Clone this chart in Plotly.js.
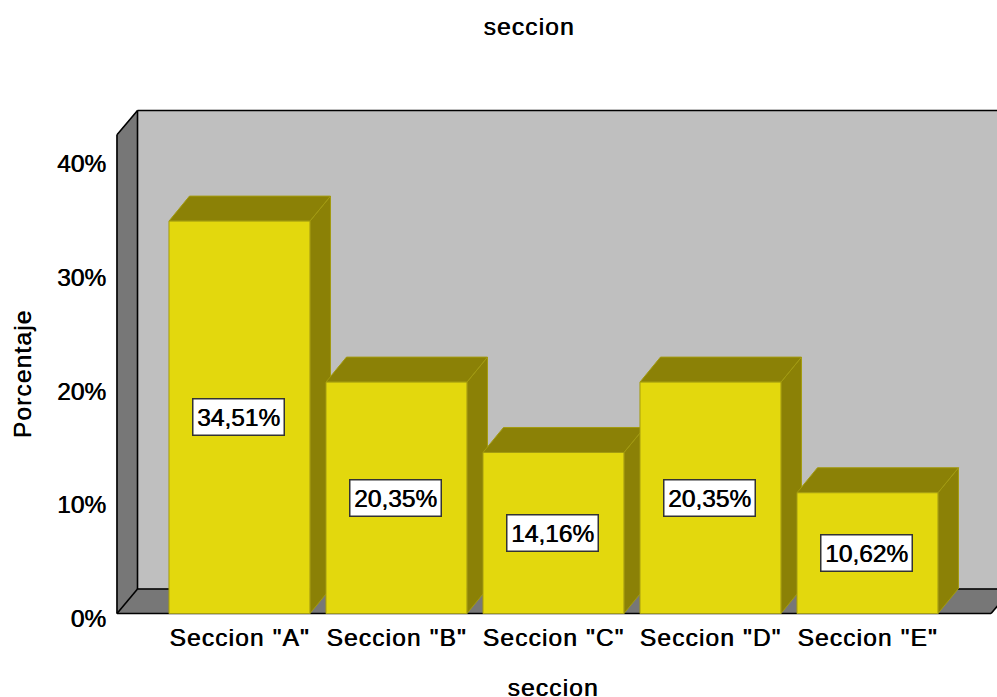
<!DOCTYPE html>
<html>
<head>
<meta charset="utf-8">
<script src="https://cdn.plot.ly/plotly-3.0.1.min.js"></script>
<style>
html,body{margin:0;padding:0;background:#fff}
#chart .xtick text, #chart .g-xtitle text, #chart .g-ytitle text, #chart .g-gtitle text {letter-spacing:1.15px}
#chart .g-xtitle {transform:translateY(-4px)}
</style>
</head>
<body>
<div id="chart" style="width:997px;height:697px"></div>
<script>
const categories = ['Seccion "A"', 'Seccion "B"', 'Seccion "C"', 'Seccion "D"', 'Seccion "E"'];
const values = [34.51, 20.35, 14.16, 20.35, 10.62];
const valueLabels = ['34,51%', '20,35%', '14,16%', '20,35%', '10,62%'];
const yTickVals = [0, 10, 20, 30, 40];
const yTickText = ['0%', '10%', '20%', '30%', '40%'];

const FONT = '"Liberation Sans", Arial, sans-serif';
const THICK = '0.6px 0 0 #000';
const barWidth = 0.898;
const depthX = 0.1306;   // oblique depth, in category units
const depthY = 2.2;      // oblique depth, in percent units
const xMin = -0.78, xMax = 4.787;  // front edges of the box
const yTop = 42.1;                 // front top of the box
const floorDepth = 2.15, wallDepth = 2.14;

const WALL = '#BFBFBF', SIDE = '#777777', YEL = '#E3D80D', DARK = '#8B8106', EDGE = '#A39B10';

function poly(pts, fill, line, lw) {
  return {
    type: 'path', xref: 'x', yref: 'y', layer: 'below',
    path: 'M' + pts.map(p => p[0] + ',' + p[1]).join('L') + 'Z',
    fillcolor: fill, line: {color: line || fill, width: lw === undefined ? 1 : lw}
  };
}
function seg(a, b) {
  return {type: 'line', xref: 'x', yref: 'y', layer: 'below',
    x0: a[0], y0: a[1], x1: b[0], y1: b[1], line: {color: '#000', width: 1.6}};
}

const bx = xMin + depthX, by = floorDepth, bt = yTop + wallDepth;
const shapes = [
  poly([[bx, by], [xMax + depthX, by], [xMax + depthX, bt], [bx, bt]], WALL),
  poly([[xMin, 0], [bx, by], [bx, bt], [xMin, yTop]], SIDE),
  poly([[xMin, 0], [xMax, 0], [xMax + depthX, by], [bx, by]], SIDE),
  seg([bx, bt], [xMax + depthX, bt]),
  seg([bx, by], [xMax + depthX, by]),
  seg([bx, by], [bx, bt]),
  seg([xMin, 0], [xMin, yTop]),
  seg([xMin, yTop], [bx, bt]),
  seg([xMin, 0], [bx, by]),
  seg([xMin, 0], [xMax, 0]),
  seg([xMax, 0], [xMax + depthX, by])
];
values.forEach((v, i) => {
  const l = i - barWidth / 2, r = i + barWidth / 2;
  shapes.push(poly([[r, 0], [r + depthX, depthY], [r + depthX, v + depthY], [r, v]], DARK, EDGE, 1));
  shapes.push(poly([[l, v], [r, v], [r + depthX, v + depthY], [l + depthX, v + depthY]], DARK, EDGE, 1));
});

const annotations = values.map((v, i) => ({
  x: i, y: v / 2, xref: 'x', yref: 'y', text: valueLabels[i], showarrow: false,
  font: {family: FONT, size: 24.5, color: '#000', shadow: THICK},
  bgcolor: '#fff', bordercolor: '#333', borderwidth: 1.5,
  width: 90, height: 35, align: 'center', valign: 'middle', borderpad: 0,
  xshift: -1
}));

Plotly.newPlot('chart', [{
  type: 'bar', x: categories, y: values, width: barWidth,
  marker: {color: YEL, line: {color: EDGE, width: 1}},
  hoverinfo: 'x+y'
}], {
  width: 997, height: 697,
  paper_bgcolor: '#fff', plot_bgcolor: 'rgba(0,0,0,0)',
  showlegend: false,
  margin: {l: 109, r: 0, t: 104, b: 53},
  title: {text: 'seccion', x: 529 / 997, xanchor: 'center', y: 1 - 26 / 697, yanchor: 'middle',
    font: {family: FONT, size: 24.5, color: '#000', shadow: THICK}},
  xaxis: {
    type: 'category', categoryorder: 'array', categoryarray: categories,
    range: [-0.831, 4.825], showgrid: false, zeroline: false, showline: false,
    anchor: 'free', position: 28 / 540,
    ticks: '', tickfont: {family: FONT, size: 24.5, color: '#000', shadow: THICK},
    tickangle: 0, ticklabelstandoff: 4,
    title: {text: 'seccion', font: {family: FONT, size: 24.5, color: '#000', shadow: THICK}}
  },
  yaxis: {
    range: [-2.682, 44.81], tickmode: 'array', tickvals: yTickVals, ticktext: yTickText,
    showgrid: false, zeroline: false, showline: false, ticks: '',
    tickfont: {family: FONT, size: 24.5, color: '#000', shadow: THICK},
    ticklabelstandoff: 2, ticklabelshift: 5,
    title: {text: 'Porcentaje', standoff: 18, font: {family: FONT, size: 24.5, color: '#000', shadow: THICK}}
  },
  shapes: shapes,
  annotations: annotations
}, {displayModeBar: false, responsive: false});
</script>
</body>
</html>
